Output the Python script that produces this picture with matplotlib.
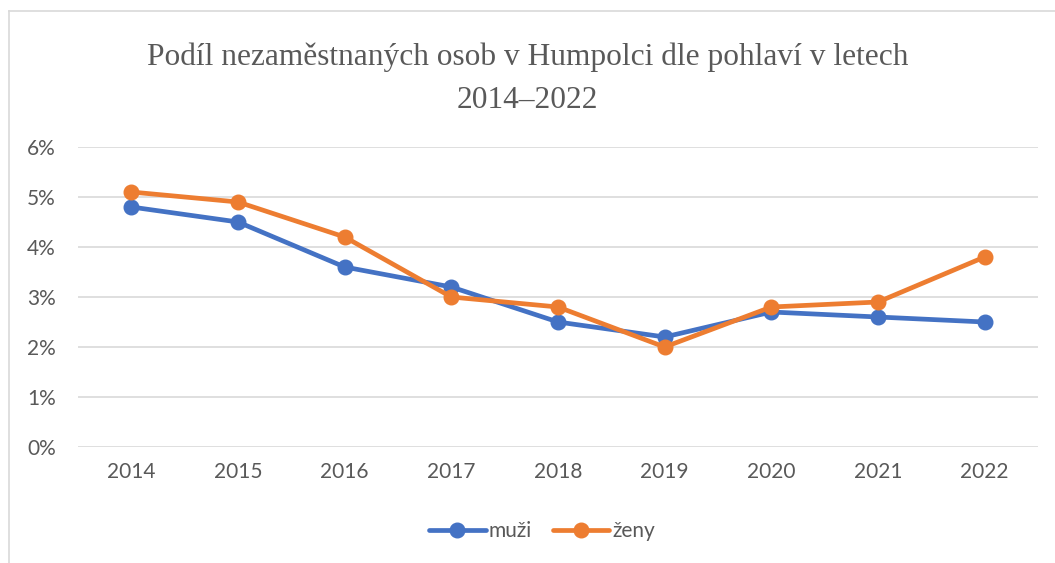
import matplotlib.pyplot as plt
from matplotlib.ticker import FuncFormatter
from matplotlib.lines import Line2D

years = ['2014', '2015', '2016', '2017', '2018', '2019', '2020', '2021', '2022']
muzi = [4.8, 4.5, 3.6, 3.2, 2.5, 2.2, 2.7, 2.6, 2.5]
zeny = [5.1, 4.9, 4.2, 3.0, 2.8, 2.0, 2.8, 2.9, 3.8]

blue = '#4472C4'
orange = '#ED7D31'
gray = '#595959'

fig = plt.figure(figsize=(10.55, 5.63), dpi=100)
ax = fig.add_axes([78/1055, 1 - 447/563, 960/1055, 300/563])

x = range(len(years))
ax.plot(x, muzi, color=blue, lw=3.4, marker='o', ms=10.5, solid_capstyle='round', label='muži')
ax.plot(x, zeny, color=orange, lw=3.4, marker='o', ms=10.5, solid_capstyle='round', label='ženy')

ax.set_xlim(-0.5, len(years) - 0.5)
ax.set_ylim(0, 6)
ax.set_yticks(range(7))
ax.yaxis.set_major_formatter(FuncFormatter(lambda v, p: f'{v:.0f}%'))
ax.set_xticks(list(x))
ax.set_xticklabels(years)
ax.grid(axis='y', color='#D9D9D9', lw=1.2)
ax.set_axisbelow(True)
for s in ax.spines.values():
    s.set_visible(False)
ax.tick_params(length=0, labelsize=15, labelcolor=gray, pad=11)
ax.tick_params(axis='y', pad=16)
for lab in ax.get_xticklabels() + ax.get_yticklabels():
    lab.set_family('Lato')

fig.text(0.5, 1 - 79/563, 'Podíl nezaměstnaných osob v Humpolci dle pohlaví v letech\n2014–2022',
         ha='center', va='center', family='Liberation Serif', fontsize=22.6, color=gray,
         linespacing=1.62)

# chart frame (top and left edges)
fig.add_artist(Line2D([9/1055, 9/1055], [0, 1 - 11/563], color='#D9D9D9', lw=1.2))
fig.add_artist(Line2D([9/1055, 1], [1 - 11/563, 1 - 11/563], color='#D9D9D9', lw=1.2))

fig.legend(loc='center', bbox_to_anchor=(542/1055, 1 - 531/563), ncol=2, frameon=False,
           handlelength=2.7, columnspacing=1.0, handletextpad=0.15,
           prop={'family': 'Lato', 'size': 15}, labelcolor=gray)

fig.savefig('out.png', dpi=100)
